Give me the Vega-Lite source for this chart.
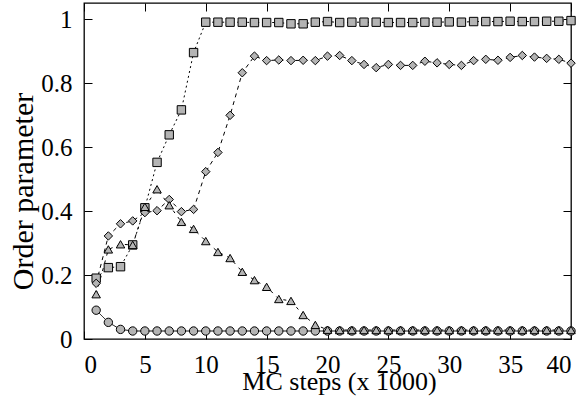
{
  "$schema": "https://vega.github.io/schema/vega-lite/v6.json",
  "autosize": {"type": "none"},
  "padding": {"left": 84, "top": 3, "right": 14, "bottom": 73},
  "width": 487,
  "height": 336,
  "background": "white",
  "config": {
    "view": {"stroke": "black", "strokeWidth": 1.3},
    "font": "Liberation Serif",
    "axis": {
      "grid": false,
      "domain": false,
      "ticks": true,
      "tickColor": "black",
      "tickWidth": 1,
      "tickSize": -8,
      "labelColor": "black",
      "labelFont": "Liberation Serif",
      "labelFontSize": 25,
      "titleColor": "black",
      "titleFont": "Liberation Serif",
      "titleFontWeight": "normal"
    }
  },
  "data": {
    "values": [
      {"x":1,"s":"ci","y":0.09},{"x":2,"s":"ci","y":0.052},{"x":3,"s":"ci","y":0.03},{"x":4,"s":"ci","y":0.025},{"x":5,"s":"ci","y":0.025},{"x":6,"s":"ci","y":0.025},{"x":7,"s":"ci","y":0.025},{"x":8,"s":"ci","y":0.025},{"x":9,"s":"ci","y":0.025},{"x":10,"s":"ci","y":0.025},{"x":11,"s":"ci","y":0.025},{"x":12,"s":"ci","y":0.025},{"x":13,"s":"ci","y":0.025},{"x":14,"s":"ci","y":0.025},{"x":15,"s":"ci","y":0.025},{"x":16,"s":"ci","y":0.025},{"x":17,"s":"ci","y":0.025},{"x":18,"s":"ci","y":0.025},{"x":19,"s":"ci","y":0.025},{"x":20,"s":"ci","y":0.025},{"x":21,"s":"ci","y":0.025},{"x":22,"s":"ci","y":0.025},{"x":23,"s":"ci","y":0.025},{"x":24,"s":"ci","y":0.025},{"x":25,"s":"ci","y":0.025},{"x":26,"s":"ci","y":0.025},{"x":27,"s":"ci","y":0.025},{"x":28,"s":"ci","y":0.025},{"x":29,"s":"ci","y":0.025},{"x":30,"s":"ci","y":0.025},{"x":31,"s":"ci","y":0.025},{"x":32,"s":"ci","y":0.025},{"x":33,"s":"ci","y":0.025},{"x":34,"s":"ci","y":0.025},{"x":35,"s":"ci","y":0.025},{"x":36,"s":"ci","y":0.025},{"x":37,"s":"ci","y":0.025},{"x":38,"s":"ci","y":0.025},{"x":39,"s":"ci","y":0.025},{"x":40,"s":"ci","y":0.025},
      {"x":1,"s":"sq","y":0.19},{"x":2,"s":"sq","y":0.223},{"x":3,"s":"sq","y":0.226},{"x":4,"s":"sq","y":0.294},{"x":5,"s":"sq","y":0.41},{"x":6,"s":"sq","y":0.552},{"x":7,"s":"sq","y":0.638},{"x":8,"s":"sq","y":0.716},{"x":9,"s":"sq","y":0.895},{"x":10,"s":"sq","y":0.99},{"x":11,"s":"sq","y":0.99},{"x":12,"s":"sq","y":0.99},{"x":13,"s":"sq","y":0.99},{"x":14,"s":"sq","y":0.989},{"x":15,"s":"sq","y":0.989},{"x":16,"s":"sq","y":0.989},{"x":17,"s":"sq","y":0.985},{"x":18,"s":"sq","y":0.985},{"x":19,"s":"sq","y":0.99},{"x":20,"s":"sq","y":0.992},{"x":21,"s":"sq","y":0.989},{"x":22,"s":"sq","y":0.99},{"x":23,"s":"sq","y":0.99},{"x":24,"s":"sq","y":0.99},{"x":25,"s":"sq","y":0.989},{"x":26,"s":"sq","y":0.989},{"x":27,"s":"sq","y":0.989},{"x":28,"s":"sq","y":0.99},{"x":29,"s":"sq","y":0.99},{"x":30,"s":"sq","y":0.991},{"x":31,"s":"sq","y":0.99},{"x":32,"s":"sq","y":0.992},{"x":33,"s":"sq","y":0.992},{"x":34,"s":"sq","y":0.992},{"x":35,"s":"sq","y":0.993},{"x":36,"s":"sq","y":0.992},{"x":37,"s":"sq","y":0.992},{"x":38,"s":"sq","y":0.993},{"x":39,"s":"sq","y":0.993},{"x":40,"s":"sq","y":0.995},
      {"x":1,"s":"di","y":0.174},{"x":2,"s":"di","y":0.322},{"x":3,"s":"di","y":0.36},{"x":4,"s":"di","y":0.369},{"x":5,"s":"di","y":0.395},{"x":6,"s":"di","y":0.401},{"x":7,"s":"di","y":0.436},{"x":8,"s":"di","y":0.398},{"x":9,"s":"di","y":0.405},{"x":10,"s":"di","y":0.523},{"x":11,"s":"di","y":0.583},{"x":12,"s":"di","y":0.699},{"x":13,"s":"di","y":0.832},{"x":14,"s":"di","y":0.884},{"x":15,"s":"di","y":0.87},{"x":16,"s":"di","y":0.872},{"x":17,"s":"di","y":0.87},{"x":18,"s":"di","y":0.871},{"x":19,"s":"di","y":0.87},{"x":20,"s":"di","y":0.884},{"x":21,"s":"di","y":0.886},{"x":22,"s":"di","y":0.87},{"x":23,"s":"di","y":0.858},{"x":24,"s":"di","y":0.848},{"x":25,"s":"di","y":0.858},{"x":26,"s":"di","y":0.855},{"x":27,"s":"di","y":0.855},{"x":28,"s":"di","y":0.868},{"x":29,"s":"di","y":0.863},{"x":30,"s":"di","y":0.858},{"x":31,"s":"di","y":0.855},{"x":32,"s":"di","y":0.87},{"x":33,"s":"di","y":0.874},{"x":34,"s":"di","y":0.871},{"x":35,"s":"di","y":0.88},{"x":36,"s":"di","y":0.886},{"x":37,"s":"di","y":0.881},{"x":38,"s":"di","y":0.877},{"x":39,"s":"di","y":0.874},{"x":40,"s":"di","y":0.862},
      {"x":1,"s":"tr","y":0.14},{"x":2,"s":"tr","y":0.28},{"x":3,"s":"tr","y":0.296},{"x":4,"s":"tr","y":0.294},{"x":5,"s":"tr","y":0.413},{"x":6,"s":"tr","y":0.468},{"x":7,"s":"tr","y":0.418},{"x":8,"s":"tr","y":0.366},{"x":9,"s":"tr","y":0.344},{"x":10,"s":"tr","y":0.306},{"x":11,"s":"tr","y":0.272},{"x":12,"s":"tr","y":0.253},{"x":13,"s":"tr","y":0.21},{"x":14,"s":"tr","y":0.184},{"x":15,"s":"tr","y":0.163},{"x":16,"s":"tr","y":0.125},{"x":17,"s":"tr","y":0.119},{"x":18,"s":"tr","y":0.075},{"x":19,"s":"tr","y":0.044},{"x":20,"s":"tr","y":0.029},{"x":21,"s":"tr","y":0.028},{"x":22,"s":"tr","y":0.028},{"x":23,"s":"tr","y":0.028},{"x":24,"s":"tr","y":0.028},{"x":25,"s":"tr","y":0.028},{"x":26,"s":"tr","y":0.028},{"x":27,"s":"tr","y":0.028},{"x":28,"s":"tr","y":0.028},{"x":29,"s":"tr","y":0.028},{"x":30,"s":"tr","y":0.028},{"x":31,"s":"tr","y":0.028},{"x":32,"s":"tr","y":0.028},{"x":33,"s":"tr","y":0.028},{"x":34,"s":"tr","y":0.028},{"x":35,"s":"tr","y":0.028},{"x":36,"s":"tr","y":0.028},{"x":37,"s":"tr","y":0.028},{"x":38,"s":"tr","y":0.028},{"x":39,"s":"tr","y":0.028},{"x":40,"s":"tr","y":0.028}
    ]
  },
  "layer": [
    {
      "mark": {"type": "line", "color": "black", "strokeWidth": 1},
      "encoding": {
        "x": {"field": "x", "type": "quantitative",
              "scale": {"domain": [0, 40], "nice": false},
              "axis": {"orient": "bottom", "values": [0,5,10,15,20,25,30,35,40], "tickSize": -8, "tickColor": "black", "labelFont": "Liberation Serif", "labelFontSize": 25, "labelPadding": 21, "title": "MC steps (x 1000)", "titleFont": "Liberation Serif", "titleFontSize": 26, "titleX": 255, "titleY": 50, "titleAlign": "center", "titleBaseline": "alphabetic"}},
        "y": {"field": "y", "type": "quantitative",
              "scale": {"domain": [0, 1.05], "nice": false},
              "axis": {"orient": "left", "values": [0,0.2,0.4,0.6,0.8,1], "format": "~g", "tickSize": -8, "tickColor": "black", "labelFont": "Liberation Serif", "labelFontSize": 25, "labelPadding": 20, "title": "Order parameter", "titleFont": "Liberation Serif", "titleFontSize": 30, "titleX": -52, "titleY": 188, "titleAngle": -90, "titleAlign": "center", "titleBaseline": "alphabetic"}},
        "detail": {"field": "s"},
        "strokeDash": {"field": "s", "type": "nominal", "legend": null,
                       "scale": {"domain": ["ci","sq","di","tr"], "range": [[1,0],[2,3],[4,4],[3,5]]}}
      }
    },
    {
      "mark": {"type": "point", "filled": true, "fill": "#b4b4b4", "stroke": "black", "strokeWidth": 1, "opacity": 1},
      "encoding": {
        "x": {"field": "x", "type": "quantitative", "scale": {"domain": [0, 40], "nice": false},
              "axis": {"orient": "top", "values": [0,5,10,15,20,25,30,35,40], "tickSize": -8, "tickColor": "black", "labels": false, "title": null}},
        "y": {"field": "y", "type": "quantitative", "scale": {"domain": [0, 1.05], "nice": false},
              "axis": {"orient": "right", "values": [0,0.2,0.4,0.6,0.8,1], "tickSize": -8, "tickColor": "black", "labels": false, "title": null}},
        "shape": {"field": "s", "type": "nominal", "legend": null,
                  "scale": {"domain": ["ci","sq","di","tr"], "range": ["circle","square","diamond","triangle-up"]}},
        "size": {"field": "s", "type": "nominal", "legend": null,
                 "scale": {"domain": ["ci","sq","di","tr"], "range": [70, 72, 150, 140]}}
      }
    }
  ],
  "resolve": {"axis": {"x": "independent", "y": "independent"}}
}
